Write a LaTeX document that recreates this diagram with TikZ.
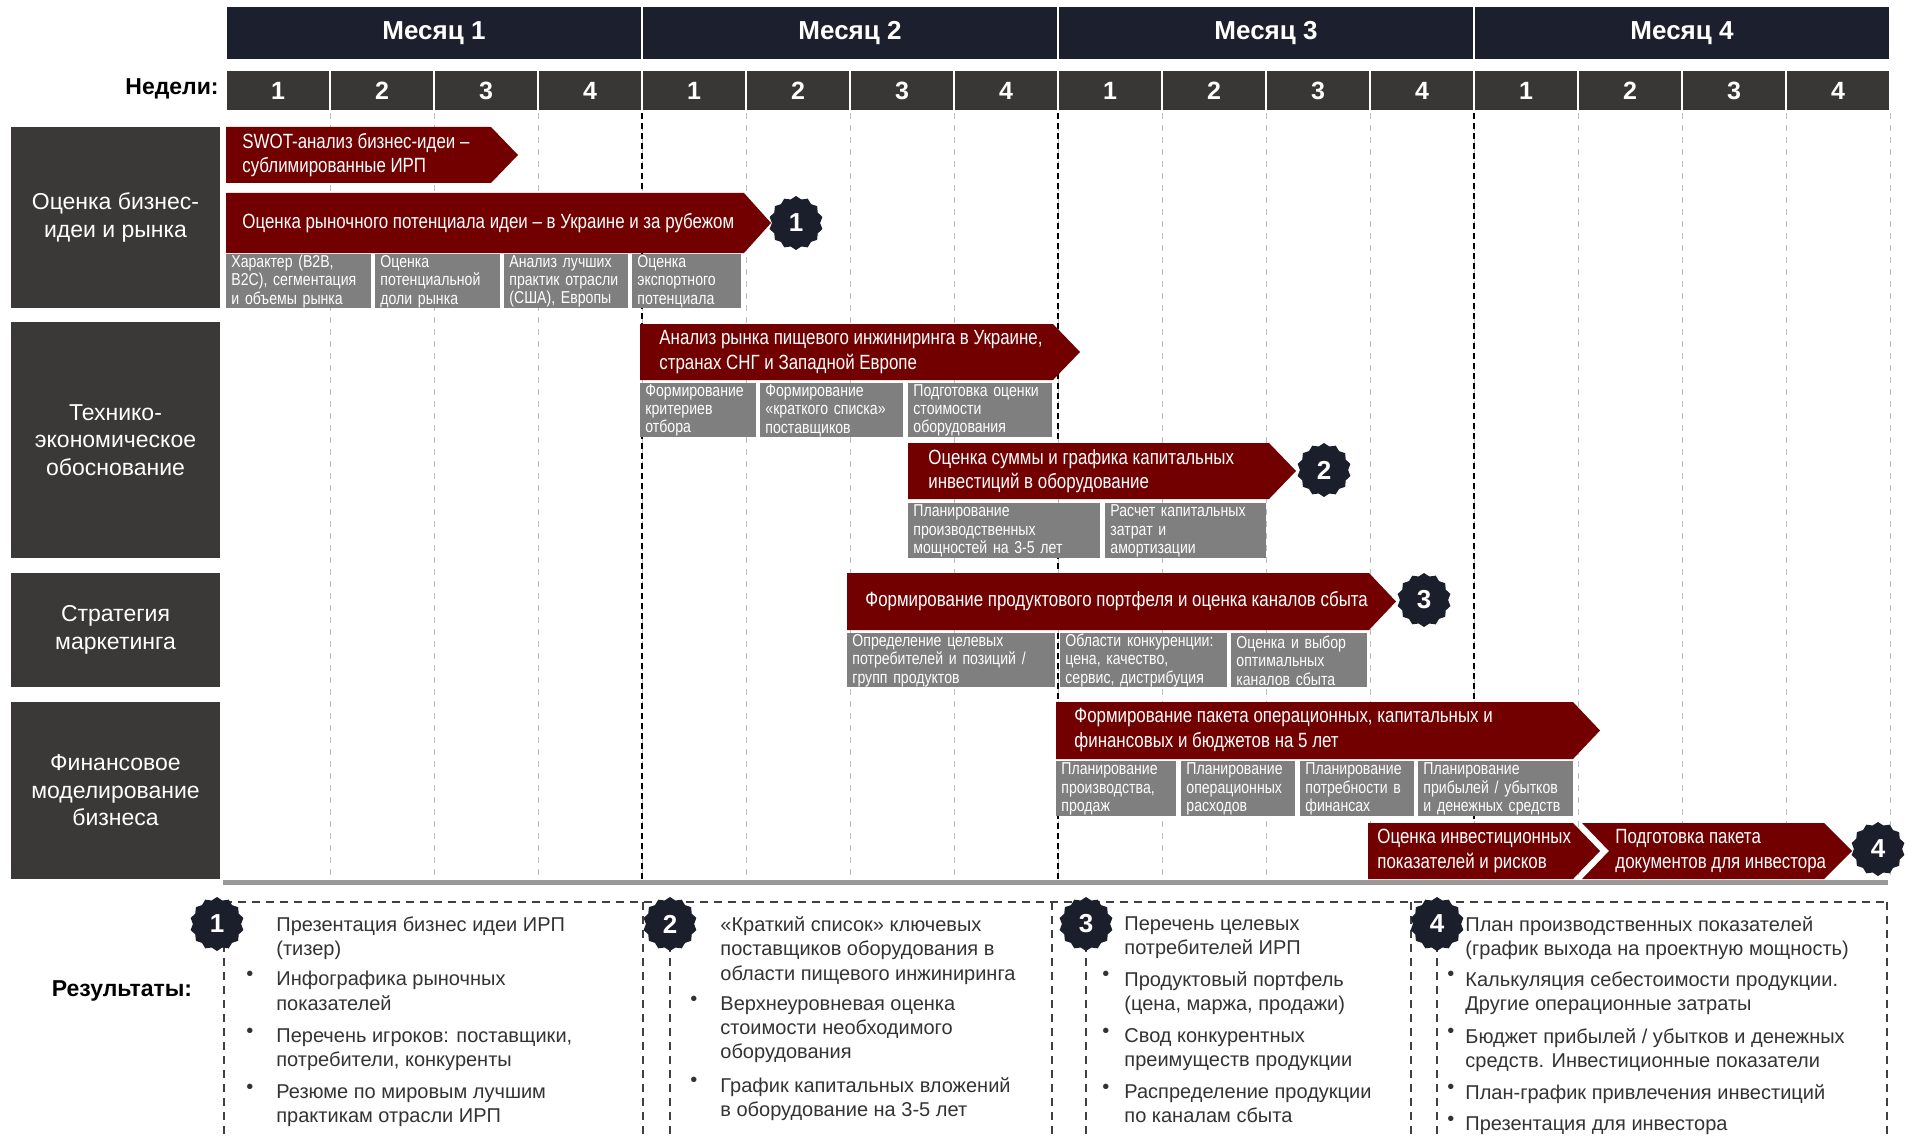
\documentclass[tikz,border=0pt]{standalone}
\usepackage{fontspec}
\setmainfont{Liberation Sans}
\newfontfamily\narrowfont{Liberation Sans}[FakeStretch=0.82,Ligatures=TeX]
\usetikzlibrary{shapes.geometric}

\definecolor{headnavy}{HTML}{1C1F2E}
\definecolor{weekgray}{HTML}{393736}
\definecolor{catgray}{HTML}{3B3938}
\definecolor{barred}{HTML}{720000}
\definecolor{subgray}{HTML}{7F7F7F}
\definecolor{badgenavy}{HTML}{1B1F2C}
\definecolor{resgray}{HTML}{333333}

\begin{document}
\begin{tikzpicture}[x=0.5pt,y=-0.5pt]
	\tikzstyle{month}=[fill=headnavy,draw=white,line width=1pt,text=white,minimum width=208pt,minimum height=27pt,font=\bfseries\fontsize{13}{15}\selectfont]
	\tikzstyle{week}=[fill=weekgray,draw=white,line width=1pt,text=white,minimum width=52pt,minimum height=20.5pt,font=\bfseries\fontsize{12.5}{14}\selectfont]
	\tikzstyle{cat}=[fill=catgray,text=white,align=center,minimum width=104.5pt,font=\fontsize{11.5}{13.8}\selectfont]
	\tikzstyle{bar}=[fill=barred]
	\tikzstyle{bartext}=[anchor=west,align=left,text=white,inner sep=0pt,font=\narrowfont\fontsize{10.3}{12.2}\selectfont]
	\tikzstyle{sub}=[anchor=north west,fill=subgray,text=white,align=left,inner xsep=2.5pt,inner ysep=0pt,font=\narrowfont\fontsize{8.6}{9.2}\selectfont]
	\tikzstyle{badge}=[star,star points=14,star point ratio=1.12,fill=badgenavy,text=white,inner sep=0pt,minimum size=27pt,font=\bfseries\fontsize{13}{15}\selectfont]
	\tikzstyle{weekline}=[draw=black!25,dashed,line width=0.4pt]
	\tikzstyle{monthline}=[draw=black,densely dashed,line width=0.7pt]
	\tikzstyle{resline}=[draw=black!75,dash pattern=on 4pt off 3pt,line width=0.8pt]
	\tikzstyle{restext}=[anchor=north west,align=left,inner sep=0pt,text=resgray,font=\fontsize{10}{12.2}\selectfont]
	\tikzstyle{bold}=[inner sep=0pt,font=\bfseries\fontsize{11.5}{13}\selectfont]

	\useasboundingbox (0,0) rectangle (1914,1139);
	\fill[white] (0,0) rectangle (1914,1139);

	% grid
	\foreach \k in {1,...,16} \draw[weekline] ({226+104*\k},113) -- ({226+104*\k},880);
	\foreach \k in {4,8,12} \draw[monthline] ({226+104*\k},113) -- ({226+104*\k},880);
	\draw[draw=black!40,line width=2.5pt] (223,882) -- (1888,882);

	% header
	\foreach \m in {1,...,4} \node[month] (mon\m) at ({226+416*\m-208},33) {Месяц \m};
	\foreach \m in {0,...,3} \foreach \w in {1,...,4} \node[week] (wk\m\w) at ({278+416*\m+104*(\w-1)},90.5) {\w};
	\node[bold,anchor=east] (weeks) at (219,89) {Недели:};

	% categories
	\node[cat,minimum height=90.5pt] (idea) at (115.5,217.5) {Оценка бизнес-\\идеи и рынка};
	\node[cat,minimum height=118pt] (feas) at (115.5,440) {Технико-\\экономическое\\обоснование};
	\node[cat,minimum height=57pt] (mark) at (115.5,630) {Стратегия\\маркетинга};
	\node[cat,minimum height=88.5pt] (fin) at (115.5,790.5) {Финансовое\\моделирование\\бизнеса};

	% task bars
	\foreach \xa/\xb/\ya/\yb in {226/518/127/183, 226/771/193/253, 640/1080/324/380, 908/1296/443/499, 847/1396/573/630, 1056/1600/702/759, 1368/1600/823/879}
		\fill[bar] (\xa,\ya) -- ({\xb-27},\ya) -- (\xb,{(\ya+\yb)/2}) -- ({\xb-27},\yb) -- (\xa,\yb) -- cycle;
	\fill[bar] (1582,823) -- (1824,823) -- (1852,851) -- (1824,879) -- (1582,879) -- (1609,851) -- cycle;

	\node[bartext] (swot) at (242,155) {SWOT-анализ бизнес-идеи –\\сублимированные ИРП};
	\node[bartext] (pot) at (242,223) {Оценка рыночного потенциала идеи – в Украине и за рубежом};
	\node[bartext] (eng) at (659,352) {Анализ рынка пищевого инжиниринга в Украине,\\странах СНГ и Западной Европе};
	\node[bartext] (capex) at (928,471) {Оценка суммы и графика капитальных\\инвестиций в оборудование};
	\node[bartext] (port) at (865,601) {Формирование продуктового портфеля и оценка каналов сбыта};
	\node[bartext] (pack) at (1074,730) {Формирование пакета операционных, капитальных и\\финансовых и бюджетов на 5 лет};
	\node[bartext] (risk) at (1377,851) {Оценка инвестиционных\\показателей и рисков};
	\node[bartext] (docs) at (1615,851) {Подготовка пакета\\документов для инвестора};

	\node[badge] (ms1) at (796,223) {1};
	\node[badge] (ms2) at (1324,470) {2};
	\node[badge] (ms3) at (1424,600) {3};
	\node[badge] (ms4) at (1878,849) {4};

	% sub-steps
	\foreach \xa/\xb/\ya/\yb/\txt [count=\i] in {
		226/371/254/308/{Характер (B2B,\\B2C), сегментация\\и объемы рынка},
		375/500/254/308/{Оценка\\потенциальной\\доли рынка},
		504/628/254/308/{Анализ лучших\\практик отрасли\\(США), Европы},
		632/741/254/308/{Оценка\\экспортного\\потенциала},
		640/756/383/437/{Формирование\\критериев\\отбора},
		760/903/383/437/{Формирование\\«краткого списка»\\поставщиков},
		908/1052/383/437/{Подготовка оценки\\стоимости\\оборудования},
		908/1100/503/558/{Планирование\\производственных\\мощностей на 3-5 лет},
		1105/1266/503/558/{Расчет капитальных\\затрат и\\амортизации},
		847/1055/633/687/{Определение целевых\\потребителей и позиций /\\групп продуктов},
		1060/1227/633/687/{Области конкуренции:\\цена, качество,\\сервис, дистрибуция},
		1231/1367/633/687/{Оценка и выбор\\оптимальных\\каналов сбыта},
		1056/1176/761/816/{Планирование\\производства,\\продаж},
		1181/1295/761/816/{Планирование\\операционных\\расходов},
		1300/1414/761/816/{Планирование\\потребности в\\финансах},
		1418/1573/761/816/{Планирование\\прибылей / убытков\\и денежных средств}}{
		\pgfmathsetmacro{\subw}{(\xb-\xa)*0.5-5}
		\pgfmathsetmacro{\subh}{(\yb-\ya)*0.5}
		\node[sub,text width=\subw pt,minimum height=\subh pt] (sub\i) at (\xa,\ya) {\txt};
	}

	% results
	\draw[resline] (224,902) -- (1888,902);
	\foreach \xx in {224,643,670,1052,1086,1411,1437,1887} \draw[resline] (\xx,902) -- (\xx,1139);
	\node[bold] (results) at (122,991) {Результаты:};

	\node[restext] (head1) at (276,916) {Презентация бизнес идеи ИРП\\(тизер)};
	\foreach \yy/\txt [count=\i] in {971/{Инфографика рыночных\\показателей}, 1028/{Перечень игроков: поставщики,\\потребители, конкуренты}, 1084/{Резюме по мировым лучшим\\практикам отрасли ИРП}}{
		\node[restext] (dot1\i) at (246,\yy) {•};
		\node[restext] (item1\i) at (276,\yy) {\txt};
	}
	\node[restext] (head2) at (720,916) {«Краткий список» ключевых\\поставщиков оборудования в\\области пищевого инжиниринга};
	\foreach \yy/\txt [count=\i] in {996/{Верхнеуровневая оценка\\стоимости необходимого\\оборудования}, 1077/{График капитальных вложений\\в оборудование на 3-5 лет}}{
		\node[restext] (dot2\i) at (690,\yy) {•};
		\node[restext] (item2\i) at (720,\yy) {\txt};
	}
	\node[restext] (head3) at (1124,916) {Перечень целевых\\потребителей ИРП};
	\foreach \yy/\txt [count=\i] in {971/{Продуктовый портфель\\(цена, маржа, продажи)}, 1028/{Свод конкурентных\\преимуществ продукции}, 1084/{Распределение продукции\\по каналам сбыта}}{
		\node[restext] (dot3\i) at (1102,\yy) {•};
		\node[restext] (item3\i) at (1124,\yy) {\txt};
	}
	\node[restext] (head4) at (1465,916) {План производственных показателей\\(график выхода на проектную мощность)};
	\foreach \yy/\txt [count=\i] in {971/{Калькуляция себестоимости продукции.\\Другие операционные затраты}, 1028/{Бюджет прибылей / убытков и денежных\\средств. Инвестиционные показатели}, 1084/{План-график привлечения инвестиций}, 1116/{Презентация для инвестора}}{
		\node[restext] (dot4\i) at (1447,\yy) {•};
		\node[restext] (item4\i) at (1465,\yy) {\txt};
	}

	\node[badge] (res1) at (217,924) {1};
	\node[badge] (res2) at (670,924) {2};
	\node[badge] (res3) at (1086,924) {3};
	\node[badge] (res4) at (1437,924) {4};
\end{tikzpicture}
\end{document}
